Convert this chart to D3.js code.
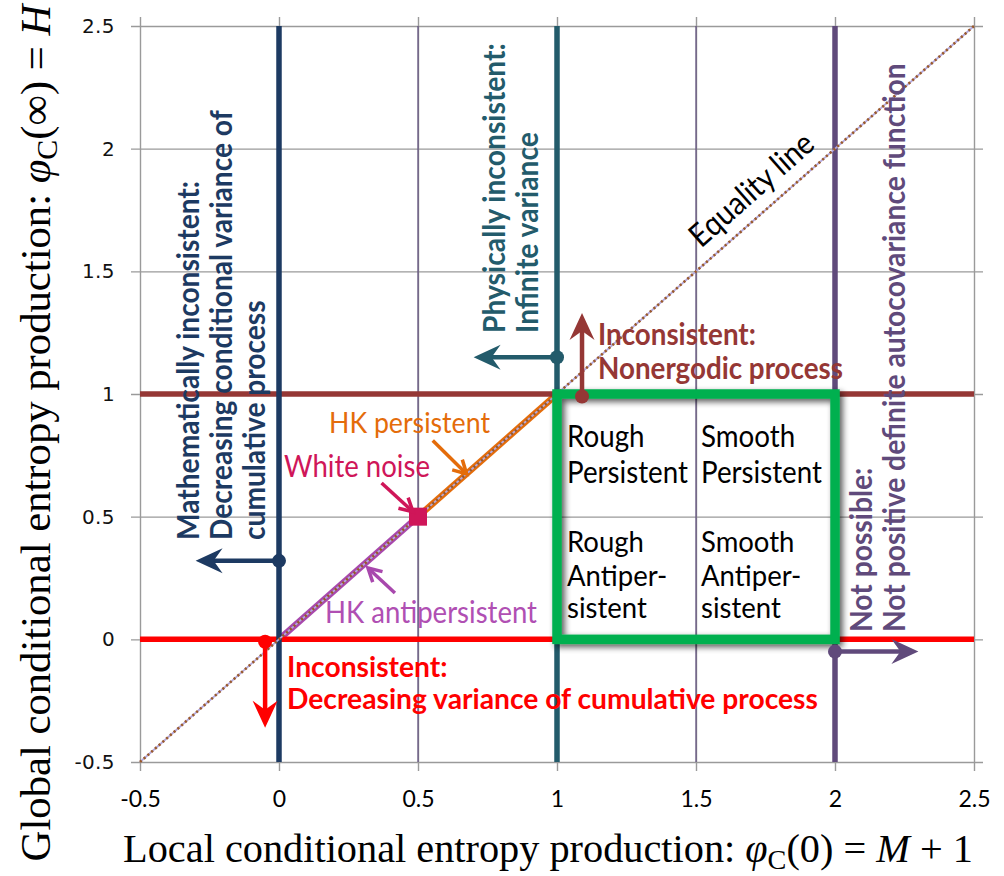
<!DOCTYPE html>
<html>
<head>
<meta charset="utf-8">
<script src="https://cdn.jsdelivr.net/npm/d3@7"></script>
<style>
  body { margin: 0; background: #fff; }
  svg { display: block; }
</style>
</head>
<body>
<svg id="chart" width="1004" height="876"></svg>
<script>
// ---- values ----
const xTicks = [-0.5, 0, 0.5, 1, 1.5, 2, 2.5];
const yTicks = [-0.5, 0, 0.5, 1, 1.5, 2, 2.5];
const xTickLabels = ["-0.5", "0", "0.5", "1", "1.5", "2", "2.5"];
const yTickLabels = ["-0.5", "0", "0.5", "1", "1.5", "2", "2.5"];

// limits of the admissible region
const verticalLimits = [0, 1, 2];        // phi_C(0) = 0, 1, 2
const horizontalLimits = [1, 0];         // phi_C(inf) = 1, 0
const midVerticals = [0.5, 1.5];

// equality line and HK segments
const equalityLine = [[-0.5, -0.5], [2.5, 2.5]];
const hkAntipersistent = [[0, 0], [0.5, 0.5]];
const hkPersistent = [[0.5, 0.5], [1, 1]];
const whiteNoise = [[0.5, 0.5]];

// feasible region (x from 1 to 2, y from 0 to 1)
const regionX = [1, 2];
const regionY = [0, 1];

// annotation arrows: start point (dot) and tip
const arrowStarts = [[0, 0.32], [1, 1.15], [1.09, 0.99], [-0.05, -0.01], [2, -0.05]];
const arrowTips   = [[-0.3, 0.32], [0.7, 1.15], [1.09, 1.33], [-0.05, -0.36], [2.3, -0.05]];

// pointer arrows for the labels: tail and tip
const pointerTails = [[0.369, 0.637], [0.553, 0.810], [0.417, 0.189]];
const pointerTips  = [[0.482, 0.520], [0.675, 0.674], [0.320, 0.291]];

// ---- styling ----
const C = {
  grid: "#9a9a9a",
  navy: "#1d3a62",
  teal: "#235b6b",
  purple: "#604a7b",
  brown: "#953735",
  red: "#ff0000",
  green: "#00b050",
  orange: "#e46c0a",
  magenta: "#a848ad",
  crimson: "#cf1659",
  thinPurple: "#5d4b7c"
};
const limitColorsV = [C.navy, C.teal, C.purple];
const limitColorsH = [C.brown, C.red];
const arrowColors = [C.navy, C.teal, C.brown, C.red, C.purple];
const pointerColors = [C.crimson, C.orange, C.magenta];
const SANS = "Lato, 'Open Sans', sans-serif";
const SERIF = "'Liberation Serif', 'DejaVu Serif', serif";

const svg = d3.select("#chart");
const x = d3.scaleLinear().domain([-0.5, 2.5]).range([140, 974]);
const y = d3.scaleLinear().domain([-0.5, 2.5]).range([762, 26]);
const line = d3.line().x(d => x(d[0])).y(d => y(d[1]));

// drop shadow for the region box
const defs = svg.append("defs");
const sh = defs.append("filter").attr("id", "boxShadow")
  .attr("x", "-10%").attr("y", "-10%").attr("width", "125%").attr("height", "125%");
sh.append("feGaussianBlur").attr("in", "SourceAlpha").attr("stdDeviation", 3).attr("result", "blur");
sh.append("feOffset").attr("in", "blur").attr("dx", 3).attr("dy", 3).attr("result", "off");
sh.append("feComponentTransfer").attr("in", "off").attr("result", "shade")
  .append("feFuncA").attr("type", "linear").attr("slope", 0.65);
const merge = sh.append("feMerge");
merge.append("feMergeNode").attr("in", "shade");
merge.append("feMergeNode").attr("in", "SourceGraphic");

// ---- grid (crossing tick marks) ----
const gx = svg.append("g").attr("transform", "translate(0,771)")
  .call(d3.axisBottom(x).tickValues(xTicks).tickSizeInner(-(771 - 17)).tickSizeOuter(0).tickFormat(""));
const gy = svg.append("g").attr("transform", "translate(131,0)")
  .call(d3.axisLeft(y).tickValues(yTicks).tickSizeInner(-(983 - 131)).tickSizeOuter(0).tickFormat(""));
[gx, gy].forEach(g => {
  g.select(".domain").remove();
  g.selectAll(".tick line").attr("stroke", C.grid).attr("stroke-width", 1.4);
});

// tick labels
const lx = svg.append("g").attr("transform", "translate(0,762)")
  .call(d3.axisBottom(x).tickValues(xTicks).tickSize(0).tickPadding(29)
    .tickFormat((d, i) => xTickLabels[i]));
lx.select(".domain").remove();
lx.attr("font-size", null).attr("font-family", null);
lx.selectAll("text").attr("font-family", SANS).attr("font-size", 23).attr("fill", "#000");

const ly = svg.append("g").attr("transform", "translate(140,0)")
  .call(d3.axisLeft(y).tickValues(yTicks).tickSize(0).tickPadding(25)
    .tickFormat((d, i) => yTickLabels[i]));
ly.select(".domain").remove();
ly.attr("font-size", null).attr("font-family", null);
ly.selectAll("text").attr("font-family", "'DejaVu Sans', Verdana, sans-serif")
  .attr("font-size", 20).attr("letter-spacing", 0.4).attr("fill", "#111");

// thin vertical lines at 0.5 and 1.5
svg.append("g").selectAll("line").data(midVerticals).join("line")
  .attr("x1", d => x(d)).attr("x2", d => x(d))
  .attr("y1", y(2.5)).attr("y2", y(-0.5))
  .attr("stroke", C.thinPurple).attr("stroke-width", 1.2);

// ---- HK segments ----
svg.append("path").datum(hkAntipersistent).attr("d", line)
  .attr("stroke", C.magenta).attr("stroke-width", 6.5).attr("fill", "none");
svg.append("path").datum(hkPersistent).attr("d", line)
  .attr("stroke", C.orange).attr("stroke-width", 6.5).attr("fill", "none");

// ---- limit lines ----
svg.append("g").selectAll("line").data(horizontalLimits).join("line")
  .attr("x1", x(-0.5)).attr("x2", x(2.5))
  .attr("y1", d => y(d)).attr("y2", d => y(d))
  .attr("stroke", (d, i) => limitColorsH[i]).attr("stroke-width", 5.5);
svg.append("g").selectAll("line").data(verticalLimits).join("line")
  .attr("x1", d => x(d)).attr("x2", d => x(d))
  .attr("y1", y(2.5)).attr("y2", y(-0.5))
  .attr("stroke", (d, i) => limitColorsV[i]).attr("stroke-width", 5.5);

// ---- equality line (dotted, two-tone) ----
svg.append("path").datum(equalityLine).attr("d", line)
  .attr("stroke", "#b4a9de").attr("stroke-width", 1.8).attr("fill", "none");
svg.append("path").datum(equalityLine).attr("d", line)
  .attr("stroke", "#9a5a2c").attr("stroke-width", 2.6).attr("stroke-dasharray", "2.2,2.8").attr("fill", "none");

// white noise marker
svg.append("g").selectAll("rect").data(whiteNoise).join("rect")
  .attr("x", d => x(d[0]) - 9).attr("y", d => y(d[1]) - 9)
  .attr("width", 18).attr("height", 18).attr("fill", C.crimson);

// ---- feasible region box ----
svg.append("rect")
  .attr("x", x(regionX[0])).attr("y", y(regionY[1]))
  .attr("width", x(regionX[1]) - x(regionX[0]))
  .attr("height", y(regionY[0]) - y(regionY[1]))
  .attr("fill", "none").attr("stroke", C.green).attr("stroke-width", 9.5)
  .attr("filter", "url(#boxShadow)");

// ---- annotation arrows (stealth heads) ----
function stealth(tx, ty, ux, uy, L, W, N) {
  const nx = -uy, ny = ux;
  const bx = tx - L * ux, by = ty - L * uy;
  return `M${tx},${ty}L${bx + W * nx},${by + W * ny}L${tx - (L - N) * ux},${ty - (L - N) * uy}L${bx - W * nx},${by - W * ny}Z`;
}
const ag = svg.append("g");
arrowStarts.forEach((s, i) => {
  const sx = x(s[0]), sy = y(s[1]);
  const tx = x(arrowTips[i][0]), ty = y(arrowTips[i][1]);
  const len = Math.hypot(tx - sx, ty - sy);
  const ux = (tx - sx) / len, uy = (ty - sy) / len;
  const col = arrowColors[i];
  ag.append("line").attr("x1", sx).attr("y1", sy)
    .attr("x2", tx - 14 * ux).attr("y2", ty - 14 * uy)
    .attr("stroke", col).attr("stroke-width", 4.5);
  ag.append("path").attr("d", stealth(tx, ty, ux, uy, 27, 12.5, 9)).attr("fill", col);
  ag.append("circle").attr("cx", sx).attr("cy", sy).attr("r", 7).attr("fill", col);
});

// ---- pointer arrows for labels (open heads) ----
const pg = svg.append("g");
pointerTails.forEach((s, i) => {
  const sx = x(s[0]), sy = y(s[1]);
  const tx = x(pointerTips[i][0]), ty = y(pointerTips[i][1]);
  const a = Math.atan2(ty - sy, tx - sx);
  const col = pointerColors[i];
  pg.append("line").attr("x1", sx).attr("y1", sy).attr("x2", tx).attr("y2", ty)
    .attr("stroke", col).attr("stroke-width", 3.5);
  const h = 15, sp = 0.5;
  pg.append("path")
    .attr("d", `M${tx - h * Math.cos(a - sp)},${ty - h * Math.sin(a - sp)}L${tx},${ty}L${tx - h * Math.cos(a + sp)},${ty - h * Math.sin(a + sp)}`)
    .attr("fill", "none").attr("stroke", col).attr("stroke-width", 3.5)
    .attr("stroke-linejoin", "miter");
});

// ---- text helpers ----
// Lines of a block share one size, chosen so that the reference line spans fitWidth;
// with squeeze < 1 the glyphs are drawn taller and narrowed back to the same width.
function block(parent, lines, o) {
  const squeeze = o.squeeze || 0.9;
  const g = parent.append("g").attr("transform", o.transform || null);
  const ts = lines.map((t, i) => g.append("text")
    .attr("x", 0).attr("y", o.gaps ? o.gaps[i] : i * o.spacing)
    .attr("font-family", o.family || SANS)
    .attr("font-weight", o.weight || "normal")
    .attr("font-size", o.size)
    .attr("fill", o.color)
    .text(t));
  if (o.fitWidth) {
    const ref = ts[o.fitIndex || 0];
    const w = ref.node().getComputedTextLength();
    const s = (o.size * o.fitWidth / w) / squeeze;
    ts.forEach(t => {
      t.attr("font-size", s);
      const natural = t.node().getComputedTextLength();
      t.attr("textLength", natural * squeeze).attr("lengthAdjust", "spacingAndGlyphs");
    });
  }
  return g;
}

// rotated explanations
block(svg, ["Mathematically inconsistent:", "Decreasing conditional variance of", "cumulative process"],
  { transform: "translate(199,540) rotate(-90)", spacing: 33, size: 24, weight: "bold",
    color: C.navy, fitWidth: 430, fitIndex: 1 });
block(svg, ["Physically inconsistent:", "Infinite variance"],
  { transform: "translate(505,333) rotate(-90)", spacing: 33, size: 24, weight: "bold",
    color: C.teal, fitWidth: 290, fitIndex: 0 });
block(svg, ["Not possible:", "Not positive definite autocovariance function"],
  { transform: "translate(872,632) rotate(-90)", spacing: 33, size: 24, weight: "bold",
    color: C.purple, fitWidth: 569, fitIndex: 1 });

// horizontal explanations
block(svg, ["Inconsistent:", "Nonergodic process"],
  { transform: "translate(598,345)", spacing: 34, size: 24, weight: "bold",
    color: C.brown, fitWidth: 245, fitIndex: 1 });
block(svg, ["Inconsistent:", "Decreasing variance of cumulative process"],
  { transform: "translate(287,677)", spacing: 32, size: 24, weight: "bold", squeeze: 0.96,
    color: C.red, fitWidth: 531, fitIndex: 1 });

// quadrant names
block(svg, ["Rough", "Persistent"],
  { transform: "translate(567,447)", spacing: 36, size: 24, color: "#000", fitWidth: 121, fitIndex: 1 });
block(svg, ["Smooth", "Persistent"],
  { transform: "translate(701,447)", spacing: 36, size: 24, color: "#000", fitWidth: 121, fitIndex: 1 });
block(svg, ["Rough", "Antiper-", "sistent"],
  { transform: "translate(567,552)", gaps: [0, 34, 66], size: 24, color: "#000", squeeze: 0.97,
    fitWidth: 121 * 0.83, fitIndex: 1 });
block(svg, ["Smooth", "Antiper-", "sistent"],
  { transform: "translate(701,552)", gaps: [0, 34, 66], size: 24, color: "#000", squeeze: 0.97,
    fitWidth: 121 * 0.83, fitIndex: 1 });

// segment labels
block(svg, ["HK persistent"], { transform: "translate(329,433)", spacing: 0, size: 22, color: C.orange, fitWidth: 161 });
block(svg, ["White noise"], { transform: "translate(284,477)", spacing: 0, size: 22, color: C.crimson, fitWidth: 146 });
block(svg, ["HK antipersistent"], { transform: "translate(325,623)", spacing: 0, size: 22, color: "#b04fb3", fitWidth: 212 });

// equality line label
{
  const ang = Math.atan2(y(1) - y(0), x(1) - x(0)) * 180 / Math.PI;
  const g = block(svg, ["Equality line"],
    { transform: `translate(${x(1.69) + 10},${y(1.69) - 27}) rotate(${ang})`, spacing: 0, size: 22, color: "#000", fitWidth: 154 });
  g.select("text").attr("text-anchor", "middle");
}

// ---- axis titles ----
function mathTitle(g, prefix, arg, rhs) {
  const t = g.append("text").attr("font-family", SERIF).attr("font-size", 30).attr("fill", "#000")
    .attr("text-anchor", "middle");
  t.append("tspan").text(prefix);
  t.append("tspan").attr("font-style", "italic").text("\u03C6");
  t.append("tspan").attr("font-size", "0.7em").attr("dy", "0.25em").text("C");
  t.append("tspan").attr("dy", "-0.175em").text("(" + arg + ") = ");
  t.append("tspan").attr("font-style", "italic").text(rhs[0]);
  if (rhs[1]) t.append("tspan").text(rhs[1]);
  return t;
}
function fitTitle(t, w) {
  const l = t.node().getComputedTextLength();
  t.attr("font-size", 30 * w / l);
}
const xt = mathTitle(svg.append("g").attr("transform", "translate(548,862)"),
  "Local conditional entropy production: ", "0", ["M", " + 1"]);
fitTitle(xt, 850);
const yt = mathTitle(svg.append("g").attr("transform", "translate(50,433) rotate(-90)"),
  "Global conditional entropy production: ", "\u221E", ["H"]);
fitTitle(yt, 857);
</script>
</body>
</html>
